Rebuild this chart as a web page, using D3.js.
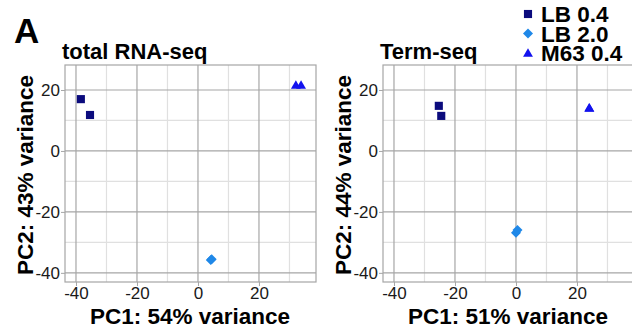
<!DOCTYPE html>
<html>
<head>
<meta charset="utf-8">
<script src="https://cdn.jsdelivr.net/npm/d3@7"></script>
<style>
  body { margin: 0; background: #fff; }
  text { font-family: "Liberation Sans", Arial, sans-serif; }
</style>
</head>
<body>
<div id="visualization"></div>
<script>
// groups (legend order)
const groups = ["LB 0.4", "LB 2.0", "M63 0.4"];
const groupColors = ["#0b0b7d", "#1f88e8", "#1212ee"];

// total RNA-seq PCA
const rnaPC1 = [-38.4, -35.4, 4.2, 4.5, 32.1, 33.8];
const rnaPC2 = [17.0, 11.8, -35.8, -35.5, 21.3, 21.3];
const rnaGroup = [0, 0, 1, 1, 2, 2];

// Term-seq PCA
const termPC1 = [-25.3, -24.5, 0.0, 0.5, 24.0, 24.1];
const termPC2 = [14.8, 11.5, -26.8, -25.9, 13.9, 13.8];
const termGroup = [0, 0, 1, 1, 2, 2];

const majorTicks = [-40, -20, 0, 20];
const minorTicks = [-30, -10, 10, 30];

const panels = [
  {title: "total RNA-seq", xLab: "PC1: 54% variance", yLab: "PC2: 43% variance",
   pc1: rnaPC1, pc2: rnaPC2, grp: rnaGroup, left: 65},
  {title: "Term-seq", xLab: "PC1: 51% variance", yLab: "PC2: 44% variance",
   pc1: termPC1, pc2: termPC2, grp: termGroup, left: 383}
];

const W = 632, H = 331;
const pTop = 65, pW = 251, pH = 217;

const svg = d3.select("#visualization")
    .append("svg")
    .attr("width", W)
    .attr("height", H);

const symbolFor = (g) => {
  if (g === 0) return d3.symbol().type(d3.symbolSquare).size(66)();
  if (g === 1) return d3.symbol().type(d3.symbolSquare).size(50)();
  return d3.symbol().type(d3.symbolTriangle).size(42)();
};

svg.append("text")
    .attr("x", 14).attr("y", 43)
    .style("font-size", "35px").style("font-weight", "bold")
    .text("A");

panels.forEach((p) => {
  const x = d3.scaleLinear().domain([-43.6, 38.7]).range([0, pW]);
  const y = d3.scaleLinear().domain([-43.0, 28.2]).range([pH, 0]);

  const g = svg.append("g").attr("transform", `translate(${p.left},${pTop})`);

  g.append("rect").attr("width", pW).attr("height", pH).style("fill", "#fff");

  g.selectAll(".vminor").data(minorTicks).enter().append("line")
      .attr("x1", (d) => x(d)).attr("x2", (d) => x(d))
      .attr("y1", 0).attr("y2", pH)
      .style("stroke", "#e0e0e0").style("stroke-width", 1.2);
  g.selectAll(".hminor").data(minorTicks.filter((d) => y(d) > 0 && y(d) < pH)).enter().append("line")
      .attr("y1", (d) => y(d)).attr("y2", (d) => y(d))
      .attr("x1", 0).attr("x2", pW)
      .style("stroke", "#e0e0e0").style("stroke-width", 1.2);
  g.selectAll(".vmajor").data(majorTicks).enter().append("line")
      .attr("x1", (d) => x(d)).attr("x2", (d) => x(d))
      .attr("y1", 0).attr("y2", pH)
      .style("stroke", "#a6a6a6").style("stroke-width", 1.2);
  g.selectAll(".hmajor").data(majorTicks).enter().append("line")
      .attr("y1", (d) => y(d)).attr("y2", (d) => y(d))
      .attr("x1", 0).attr("x2", pW)
      .style("stroke", "#a6a6a6").style("stroke-width", 1.2);

  g.append("rect").attr("width", pW).attr("height", pH)
      .style("fill", "none").style("stroke", "#a6a6a6").style("stroke-width", 1.2);

  const xAxis = g.append("g")
      .attr("transform", `translate(0, ${pH})`)
      .call(d3.axisBottom(x).tickValues(majorTicks).tickSize(4).tickPadding(1).tickFormat((d) => String(d)));
  const yAxis = g.append("g")
      .call(d3.axisLeft(y).tickValues(majorTicks).tickSize(4).tickPadding(1).tickFormat((d) => String(d)));
  [xAxis, yAxis].forEach((a) => {
    a.select(".domain").remove();
    a.selectAll("line").style("stroke", "#a6a6a6");
    a.selectAll("text").style("font-size", "17px").style("fill", "#1a1a1a")
        .style("font-family", "Liberation Sans, Arial, sans-serif");
  });

  const idx = d3.range(p.pc1.length);
  g.selectAll(".pt").data(idx).enter().append("path")
      .attr("d", (i) => symbolFor(p.grp[i]))
      .attr("transform", (i) => `translate(${x(p.pc1[i])},${y(p.pc2[i])})` + (p.grp[i] === 1 ? " rotate(45)" : ""))
      .style("fill", (i) => groupColors[p.grp[i]]);

  svg.append("text")
      .attr("x", p.left - 3).attr("y", 59)
      .style("font-size", "22px").style("font-weight", "bold")
      .text(p.title);

  svg.append("text")
      .attr("x", p.left + 125).attr("y", 324)
      .attr("text-anchor", "middle")
      .style("font-size", "22.5px").style("font-weight", "bold")
      .text(p.xLab);

  svg.append("text")
      .attr("transform", `translate(${p.left - 32},${pTop + 110}) rotate(-90)`)
      .attr("text-anchor", "middle")
      .style("font-size", "22.5px").style("font-weight", "bold")
      .text(p.yLab);
});

// legend
const legend = svg.append("g").attr("transform", "translate(528, 14)");
groups.forEach((name, i) => {
  legend.append("path")
      .attr("d", symbolFor(i))
      .attr("transform", `translate(0, ${i * 19.5 + (i === 2 ? 1 : 0)})` + (i === 1 ? " rotate(45)" : ""))
      .style("fill", groupColors[i]);
  legend.append("text")
      .attr("x", 13).attr("y", i * 19.5)
      .attr("dy", "0.36em")
      .style("font-size", "22.5px").style("font-weight", "bold")
      .text(name);
});
</script>
</body>
</html>
